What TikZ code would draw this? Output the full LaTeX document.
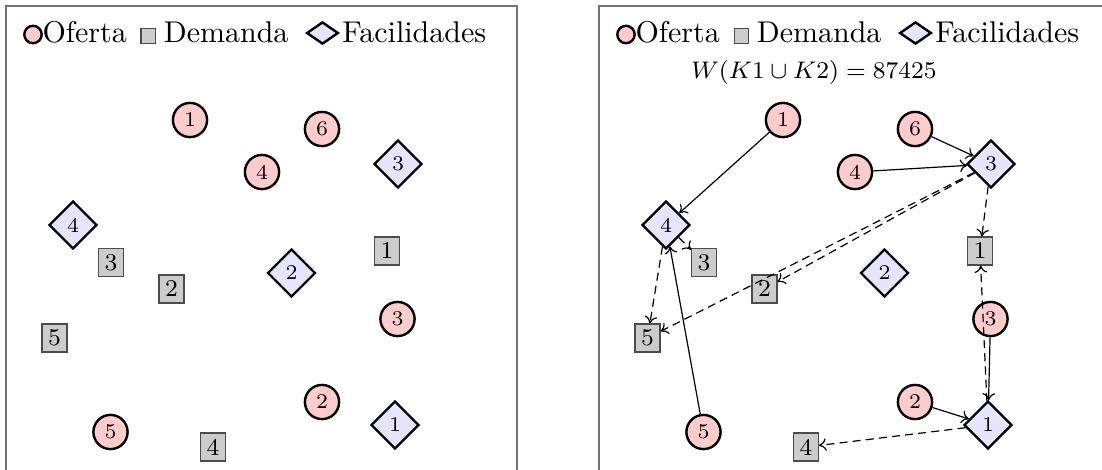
\documentclass[tikz,border=0pt]{standalone}
\usetikzlibrary{shapes.geometric,arrows.meta}
\begin{document}
\begin{tikzpicture}[x=0.333333pt,y=-0.333333pt,
  framecol/.style={draw=black!55,line width=0.65pt},
  supnode/.style={circle,draw,thick,fill=red!20,minimum size=11.4pt,inner sep=0pt,font=\scriptsize},
  demnode/.style={rectangle,draw=black!70,line width=0.5pt,fill=black!20,minimum width=8.2pt,minimum height=9.2pt,inner sep=0pt,font=\footnotesize},
  facnode/.style={diamond,draw,thick,fill=blue!10,minimum width=16pt,minimum height=16pt,inner sep=0pt,font=\scriptsize},
  keysup/.style={circle,draw,thick,fill=red!20,minimum size=5.8pt,inner sep=0pt},
  keydem/.style={rectangle,draw=black!70,line width=0.4pt,fill=black!20,minimum size=4.8pt,inner sep=0pt},
  keyfac/.style={diamond,draw,thick,fill=blue!10,minimum width=10.6pt,minimum height=7.4pt,inner sep=0pt},
  keytext/.style={anchor=base west,inner sep=0pt},
  flow/.style={-{To[length=2.4pt,width=4.2pt]},line width=0.4pt},
  ship/.style={-{To[length=2.4pt,width=4.2pt]},line width=0.4pt,dash pattern=on 2.7pt off 1.7pt}
]
\useasboundingbox (0,0) rectangle (1102,469);
\clip (0,0) rectangle (1102,469);

% panel frames (open at the bottom, right one runs off the page)
\draw[framecol] (6,480) |- (517,6) -- (517,480);
\draw[framecol] (599,480) |- (1120,6) -- (1120,480);

\foreach \dx/\p in {0/L,593/R}{
  % legend
  \node[keysup] (\p-ko) at (33+\dx,34.5) {};
  \node[keytext] (\p-kot) at (42+\dx,42.5) {Oferta};
  \node[keydem] (\p-kd) at (148.3+\dx,36) {};
  \node[keytext] (\p-kdt) at (163.3+\dx,42.5) {Demanda};
  \node[keyfac] (\p-kf) at (322.5+\dx,33) {};
  \node[keytext] (\p-kft) at (341.7+\dx,42.5) {Facilidades};
  % supply points
  \node[supnode] (\p-s1) at (190+\dx,120) {1};
  \node[supnode] (\p-s2) at (322+\dx,402) {2};
  \node[supnode] (\p-s3) at (397.5+\dx,319) {3};
  \node[supnode] (\p-s4) at (262+\dx,172) {4};
  \node[supnode] (\p-s5) at (110.5+\dx,432) {5};
  \node[supnode] (\p-s6) at (322+\dx,129) {6};
  % facilities
  \node[facnode] (\p-f1) at (395+\dx,425) {1};
  \node[facnode] (\p-f2) at (291.5+\dx,273) {2};
  \node[facnode] (\p-f3) at (398+\dx,164) {3};
  \node[facnode] (\p-f4) at (73+\dx,225) {4};
  % demand points
  \node[demnode] (\p-d1) at (387+\dx,251) {1};
  \node[demnode] (\p-d2) at (171.5+\dx,289) {2};
  \node[demnode] (\p-d3) at (111+\dx,262.5) {3};
  \node[demnode] (\p-d4) at (213+\dx,447) {4};
  \node[demnode] (\p-d5) at (54.5+\dx,338) {5};
}

% objective value of the solution
\node[anchor=base,inner sep=0pt,font=\footnotesize] (wval) at (814,78.5) {$W(K1\cup K2)=87425$};

% supply to facility
\draw[flow] (R-s1) -- (R-f4);
\draw[flow] (R-s5) -- (R-f4);
\draw[flow] (R-s6) -- (R-f3);
\draw[flow] (R-s4) -- (R-f3);
\draw[flow] (R-s3) -- (R-f1);
\draw[flow] (R-s2) -- (R-f1);

% facility to demand
\draw[ship] (R-f4) -- (R-d3);
\draw[ship] (R-f4) -- (R-d5);
\draw[ship] (R-f3) -- (R-d2);
\draw[ship] (R-f3) -- (R-d5);
\draw[ship] (R-f3) -- (R-d1);
\draw[ship] (R-f1) -- (R-d1);
\draw[ship] (R-f1) -- (R-d4);
\end{tikzpicture}
\end{document}
